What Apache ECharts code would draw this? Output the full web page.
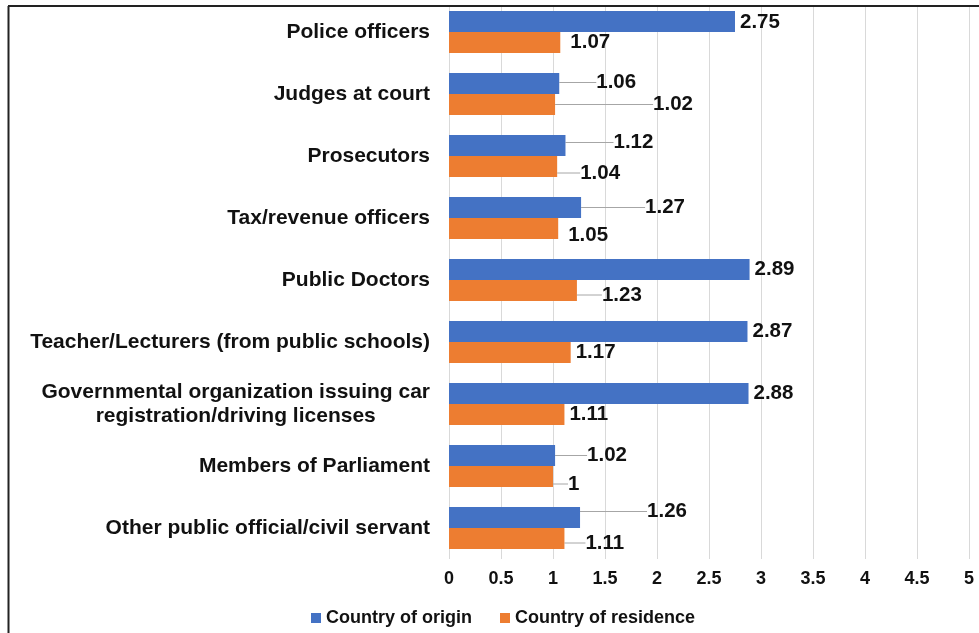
<!DOCTYPE html>
<html>
<head>
<meta charset="utf-8">
<script src="https://cdn.jsdelivr.net/npm/echarts@6/dist/echarts.min.js"></script>
<style>
  html, body { margin: 0; padding: 0; background: #fff; }
  #chart { width: 979px; height: 633px; }
</style>
</head>
<body>
<div id="chart"></div>
<script>
const categories = [
  'Police officers',
  'Judges at court',
  'Prosecutors',
  'Tax/revenue officers',
  'Public Doctors',
  'Teacher/Lecturers (from public schools)',
  'Governmental organization issuing car\nregistration/driving licenses',
  'Members of Parliament',
  'Other public official/civil servant'
]
const originValues = [2.75, 1.06, 1.12, 1.27, 2.89, 2.87, 2.88, 1.02, 1.26]
const residenceValues = [1.07, 1.02, 1.04, 1.05, 1.23, 1.17, 1.11, 1, 1.11]

// where the data labels were pushed to (dx, dy from the default spot)
const originLabelShift = [[0, 1], [32, -1], [43, -3], [59, 0], [0, 0], [0, 0], [0, 0], [27, 0], [62, -6]]
const residenceLabelShift = [[5, 0], [93, 0], [18, 6.5], [5, 7], [20, 4.5], [0, 0], [0, 0], [10, 7.5], [16, 4.5]]

const font = "'Liberation Sans', Arial, sans-serif"
const textColor = '#111'

function buildItems(values, shifts) {
  return values.map((v, i) => ({
    value: v,
    labelLine: { show: shifts[i][0] >= 10 }
  }))
}

function barSeries(name, color, values, shifts) {
  return {
    name: name,
    type: 'bar',
    barWidth: 21,
    barGap: '0%',
    itemStyle: { color: color },
    data: buildItems(values, shifts),
    label: {
      show: true,
      position: 'right',
      distance: 5,
      color: textColor,
      fontFamily: font,
      fontWeight: 'bold',
      fontSize: 20.5
    },
    labelLine: {
      show: true,
      lineStyle: { color: '#a6a6a6', width: 1 }
    },
    labelLayout: function (params) {
      const s = shifts[params.dataIndex]
      return { dx: s[0], dy: s[1] }
    }
  }
}

const myChart = echarts.init(document.getElementById('chart'))
myChart.setOption({
  animation: false,
  textStyle: { fontFamily: font },
  grid: {
    left: 449,
    right: 10,
    top: 1,
    bottom: 74,
    containLabel: false
  },
  legend: {
    left: 306,
    top: 604,
    itemWidth: 10,
    itemHeight: 10,
    itemGap: 28,
    icon: 'rect',
    textStyle: {
      color: textColor,
      fontFamily: font,
      fontWeight: 'bold',
      fontSize: 18
    },
    data: ['Country of origin', 'Country of residence']
  },
  xAxis: {
    type: 'value',
    min: 0,
    max: 5,
    interval: 0.5,
    axisLine: { show: false },
    axisTick: { show: false },
    splitLine: { lineStyle: { color: '#d9d9d9', width: 1 } },
    axisLabel: {
      margin: 11,
      color: textColor,
      fontFamily: font,
      fontWeight: 'bold',
      fontSize: 18
    }
  },
  yAxis: {
    type: 'category',
    inverse: true,
    data: categories,
    axisLine: { show: false },
    axisTick: { show: false },
    axisLabel: {
      margin: 19,
      color: textColor,
      fontFamily: font,
      fontWeight: 'bold',
      fontSize: 21,
      formatter: function (val) {
        return val.split('\n').map(l => '{c|' + l + '}').join('\n')
      },
      rich: {
        c: {
          align: 'center',
          color: textColor,
          fontFamily: font,
          fontWeight: 'bold',
          fontSize: 21,
          lineHeight: 24
        }
      }
    }
  },
  series: [
    barSeries('Country of origin', '#4472c4', originValues, originLabelShift),
    barSeries('Country of residence', '#ed7d31', residenceValues, residenceLabelShift)
  ],
  graphic: [
    { type: 'rect', z: 100, shape: { x: 0, y: 0, width: 979, height: 6 }, style: { fill: '#fff' } },
    { type: 'line', z: 101, shape: { x1: 8, y1: 6, x2: 979, y2: 6 }, style: { stroke: '#222', lineWidth: 2 } },
    { type: 'line', z: 101, shape: { x1: 8.5, y1: 6, x2: 8.5, y2: 633 }, style: { stroke: '#222', lineWidth: 2 } }
  ]
})
</script>
</body>
</html>
